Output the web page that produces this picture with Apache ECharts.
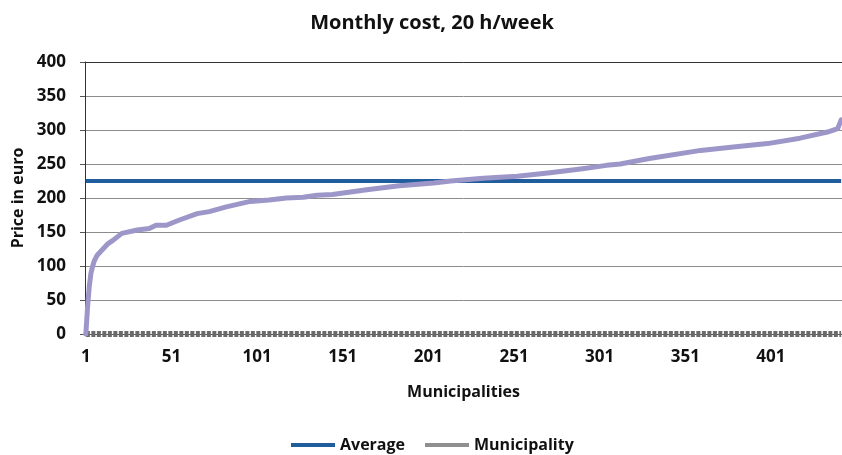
<!DOCTYPE html>
<html>
<head>
<meta charset="utf-8">
<script src="https://cdn.jsdelivr.net/npm/echarts@6/dist/echarts.min.js"></script>
<style>
  html, body { margin: 0; padding: 0; background: #fff; }
  #chart { width: 842px; height: 455px; }
</style>
</head>
<body>
<div id="chart"></div>
<script>
// number of municipalities on the x axis (labels 1, 51, 101 ...)
const municipalityCount = 442;
const categories = Array.from({ length: municipalityCount }, (_, i) => String(i + 1));

// sorted monthly price per municipality: [index, euro]
const pricePoints = [
  [0, 0], [1, 40], [2, 70], [3, 90], [4, 100], [5, 108], [6, 113], [7, 117],
  [10, 125], [13, 133], [16, 138], [21, 148], [30, 153], [37, 155], [41, 160],
  [47, 160], [55, 168], [65, 177], [72, 180], [82, 187], [96, 195], [107, 197],
  [117, 200], [127, 201], [135, 204], [144, 205], [164, 212], [183, 218],
  [203, 222], [213, 225], [232, 229], [252, 232], [271, 237], [290, 243],
  [304, 248], [312, 250], [329, 258], [359, 270], [378, 275], [398, 280],
  [417, 288], [433, 297], [439, 302], [441, 315]
];

// national average
const averagePoints = [[0, 225], [441, 225]];
// municipality markers sitting on the zero line
const municipalityPoints = [[0, 0], [441, 0]];

const labelFont = '"Open Sans", "Noto Sans", sans-serif';

const chart = echarts.init(document.getElementById('chart'));

const option = {
  animation: false,
  backgroundColor: '#fff',
  title: {
    text: 'Monthly cost, 20 h/week',
    left: 427,
    textAlign: 'center',
    top: 8,
    textStyle: { fontFamily: labelFont, fontWeight: 'bold', fontSize: 20, color: '#111' }
  },
  legend: {
    data: [
      { name: 'Average', icon: 'rect' },
      { name: 'Municipality', icon: 'rect' }
    ],
    left: 286,
    top: 432,
    itemWidth: 44,
    itemHeight: 4,
    itemGap: 20,
    textStyle: { fontFamily: labelFont, fontWeight: 'bold', fontSize: 16, color: '#111' }
  },
  grid: { left: 85, right: 0, top: 62, bottom: 121, outerBoundsMode: 'none' },
  xAxis: [
    {
      type: 'category',
      data: categories,
      boundaryGap: true,
      name: 'Municipalities',
      nameLocation: 'middle',
      nameGap: 50,
      nameTextStyle: { fontFamily: labelFont, fontWeight: 'bold', fontSize: 16, color: '#111' },
      axisLine: { lineStyle: { color: '#555' } },
      axisTick: { show: false },
      axisLabel: {
        interval: 49,
        margin: 15,
        fontFamily: labelFont, fontWeight: 'bold', fontSize: 17, color: '#111'
      },
      splitLine: { show: false }
    },
    {
      type: 'category',
      data: categories,
      position: 'top',
      axisLine: { show: true, lineStyle: { color: '#333' } },
      axisTick: { show: false },
      axisLabel: { show: false }
    }
  ],
  yAxis: {
    type: 'value',
    min: 0,
    max: 400,
    interval: 50,
    name: 'Price in euro',
    nameLocation: 'middle',
    nameGap: 59,
    nameTextStyle: { fontFamily: labelFont, fontWeight: 'bold', fontSize: 16, color: '#111' },
    axisLine: { show: true, lineStyle: { color: '#333' } },
    axisTick: { show: true, length: 5, lineStyle: { color: '#555' } },
    axisLabel: { margin: 19, fontFamily: labelFont, fontWeight: 'bold', fontSize: 17, color: '#111' },
    splitLine: { lineStyle: { color: '#8c8c8c', width: 1 } }
  },
  series: [
    {
      name: 'Average',
      type: 'line',
      data: averagePoints,
      symbol: 'none',
      color: '#1f5d9c',
      lineStyle: { color: '#1f5d9c', width: 4 },
      z: 3
    },
    {
      name: 'Municipality',
      type: 'line',
      data: municipalityPoints,
      symbol: 'none',
      color: '#8f8f8f',
      lineStyle: { color: '#6a6a6a', width: 6, type: [4, 1.5] },
      z: 2
    },
    {
      name: 'Price',
      type: 'line',
      data: pricePoints,
      symbol: 'none',
      color: '#9d97c9',
      lineStyle: { color: '#9d97c9', width: 5, join: 'round', cap: 'round' },
      z: 4
    }
  ]
};

chart.setOption(option);
</script>
</body>
</html>
